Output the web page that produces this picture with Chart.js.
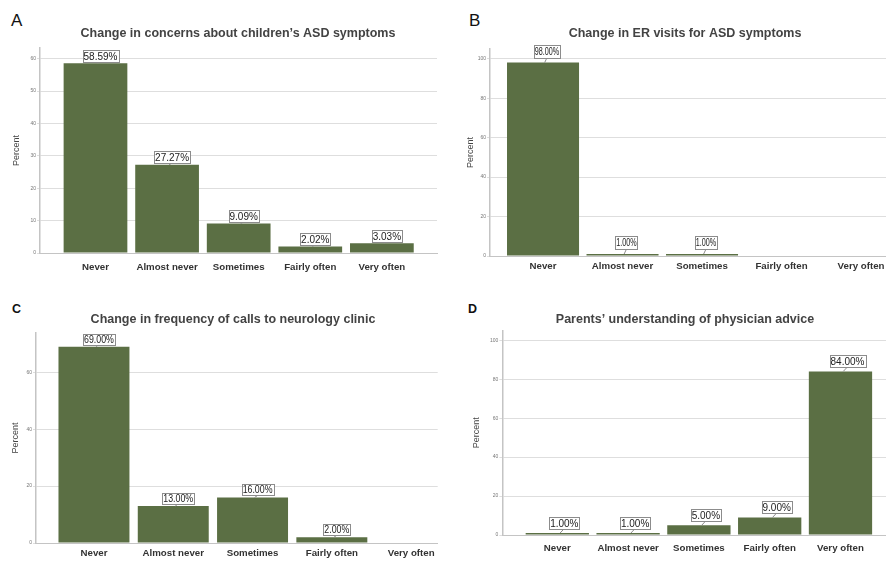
<!DOCTYPE html>
<html lang="en">
<head>
  <meta charset="UTF-8">
  <title>ASD survey bar charts</title>
  <script src="https://cdn.jsdelivr.net/npm/chart.js@4"></script>
  <style>
    html, body { margin: 0; padding: 0; background: #fff; overflow: hidden; }
    body { width: 886px; height: 561px; position: relative; font-family: "Liberation Sans", Arial, sans-serif; }
    canvas { position: absolute; }
    .letter { position: absolute; color: #111; line-height: 1; }
  </style>
</head>
<body>
  <div class="letter" style="left:11px; top:12px; font-size:17px;">A</div>
  <div class="letter" style="left:469px; top:12px; font-size:17px;">B</div>
  <div class="letter" style="left:12px; top:303px; font-size:12.5px; font-weight:bold;">C</div>
  <div class="letter" style="left:468px; top:303px; font-size:12.5px; font-weight:bold;">D</div>

  <canvas id="chartA"></canvas>
  <canvas id="chartB"></canvas>
  <canvas id="chartC"></canvas>
  <canvas id="chartD"></canvas>

  <script>
    // data (percent of respondents)
    const categories = ["Never", "Almost never", "Sometimes", "Fairly often", "Very often"];

    const concernsPct = [58.59, 27.27, 9.09, 2.02, 3.03];
    const erVisitsPct = [98.00, 1.00, 1.00, 0, 0];
    const clinicCallsPct = [69.00, 13.00, 16.00, 2.00, 0];
    const understandingPct = [1.00, 1.00, 5.00, 9.00, 84.00];

    const ticksA = [0, 10, 20, 30, 40, 50, 60];
    const ticksB = [0, 20, 40, 60, 80, 100];
    const ticksC = [0, 20, 40, 60];
    const ticksD = [0, 20, 40, 60, 80, 100];

    const titleA = "Change in concerns about children\u2019s ASD symptoms";
    const titleB = "Change in ER visits for ASD symptoms";
    const titleC = "Change in frequency of calls to neurology clinic";
    const titleD = "Parents\u2019 understanding of physician advice";

    const FONT = '"Liberation Sans", Arial, sans-serif';
    const barColor = "#5b6f44";
    const gridColor = "#dedede";
    const axisColor = "#c4c4c4";

    // boxed value labels above each bar
    const valueBoxes = {
      id: "valueBoxes",
      afterDatasetsDraw(chart, args, opts) {
        const ctx = chart.ctx;
        const meta = chart.getDatasetMeta(0);
        const data = chart.data.datasets[0].data;
        ctx.save();
        ctx.font = "10px " + FONT;
        meta.data.forEach((bar, i) => {
          const v = data[i].y;
          if (!v) return;
          const text = v.toFixed(2) + "%";
          const w = ctx.measureText(text).width * opts.squeeze + 2;
          const h = opts.boxHeight;
          const cx = bar.x + opts.shift;
          const bottom = bar.y - opts.gap;
          ctx.strokeStyle = "#8c8c8c";
          ctx.lineWidth = 1;
          ctx.beginPath();
          ctx.moveTo(bar.x + opts.shift * 0.4, bar.y);
          ctx.lineTo(cx, bottom);
          ctx.stroke();
          const bx = Math.round(cx - w / 2) + 0.5;
          const by = Math.round(bottom - h) + 0.5;
          ctx.fillStyle = "#fff";
          ctx.fillRect(bx, by, Math.round(w), Math.round(h));
          ctx.strokeRect(bx, by, Math.round(w), Math.round(h));
          ctx.fillStyle = "#222";
          ctx.textAlign = "center";
          ctx.textBaseline = "middle";
          ctx.save();
          ctx.translate(cx, by + h / 2 + 0.5);
          ctx.scale(opts.squeeze, 1);
          ctx.fillText(text, 0, 0);
          ctx.restore();
        });
        ctx.restore();
      }
    };

    function drawPanel(id, title, values, yTicks, g) {
      const canvas = document.getElementById(id);
      canvas.width = g.width;
      canvas.height = g.height;
      canvas.style.left = g.left + "px";
      canvas.style.top = g.top + "px";

      return new Chart(canvas, {
        type: "bar",
        data: {
          datasets: [{
            data: values.map((v, i) => ({ x: i, y: v })),
            backgroundColor: barColor,
            categoryPercentage: 1,
            barPercentage: g.bar
          }]
        },
        options: {
          responsive: false,
          animation: false,
          devicePixelRatio: 1,
          layout: { padding: 0, autoPadding: false },
          plugins: {
            legend: { display: false },
            tooltip: { enabled: false },
            title: {
              display: true,
              text: title,
              color: "#434343",
              font: { family: FONT, size: 12.5, weight: "bold" },
              padding: { top: g.titleTop, bottom: g.titleBottom }
            },
            valueBoxes: g.box
          },
          scales: {
            x: {
              type: "linear",
              offset: false,
              min: g.xMin,
              max: g.xMax,
              afterBuildTicks: s => { s.ticks = categories.map((c, i) => ({ value: i })); },
              afterFit: s => { s.height = g.xHeight; },
              grid: { display: false, drawTicks: false, offset: false },
              border: { color: axisColor, width: 1 },
              ticks: {
                callback: v => categories[v],
                color: "#333",
                font: { family: FONT, size: 9.7, weight: "bold" },
                padding: g.xPad,
                maxRotation: 0,
                autoSkip: false
              }
            },
            y: {
              min: 0,
              max: g.yMax,
              afterBuildTicks: s => { s.ticks = yTicks.map(v => ({ value: v })); },
              afterFit: s => { s.width = g.yWidth; },
              grid: { color: gridColor, tickLength: 3 },
              border: { color: axisColor, width: 1.5 },
              ticks: { color: "#777", font: { family: FONT, size: 5 }, padding: 1 },
              title: {
                display: true,
                text: "Percent",
                color: "#444",
                font: { family: FONT, size: 9 },
                padding: { top: g.percentPad, bottom: 0 }
              }
            },
            pad: {
              position: "right",
              display: true,
              grid: { display: false },
              border: { display: false },
              ticks: { display: false },
              afterFit: s => { s.width = g.rightPad; }
            }
          }
        },
        plugins: [valueBoxes]
      });
    }

    drawPanel("chartA", titleA, concernsPct, ticksA, {
      left: 0, top: 0, width: 476, height: 280,
      yWidth: 40, rightPad: 39, xHeight: 27, titleTop: 26.5, titleBottom: 6.5,
      xMin: -0.775, xMax: 4.77, yMax: 63.3, bar: 0.89, xPad: 9, percentPad: 11.6,
      box: { shift: 5, gap: 1.5, boxHeight: 12, squeeze: 1 }
    });

    drawPanel("chartB", titleB, erVisitsPct, ticksB, {
      left: 443, top: 0, width: 484, height: 280,
      yWidth: 47, rightPad: 41, xHeight: 24, titleTop: 25.8, titleBottom: 8.2,
      xMin: -0.667, xMax: 4.314, yMax: 104.9, bar: 0.906, xPad: 4.7, percentPad: 22.6,
      box: { shift: 4, gap: 5, boxHeight: 13, squeeze: 0.72 }
    });

    drawPanel("chartC", titleC, clinicCallsPct, ticksC, {
      left: 0, top: 280, width: 466, height: 281,
      yWidth: 36, rightPad: 28.3, xHeight: 18, titleTop: 31.8, titleBottom: 6.2,
      xMin: -0.731, xMax: 4.335, yMax: 73.8, bar: 0.895, xPad: 4.3, percentPad: 10.3,
      box: { shift: 5, gap: 2, boxHeight: 11, squeeze: 0.88 }
    });

    drawPanel("chartD", titleD, understandingPct, ticksD, {
      left: 443, top: 280, width: 484, height: 281,
      yWidth: 59.3, rightPad: 41, xHeight: 26, titleTop: 31.8, titleBottom: 3.9,
      xMin: -0.777, xMax: 4.643, yMax: 104.9, bar: 0.894, xPad: 7.3, percentPad: 27.9,
      box: { shift: 7, gap: 4.5, boxHeight: 12, squeeze: 1 }
    });
  </script>
</body>
</html>
